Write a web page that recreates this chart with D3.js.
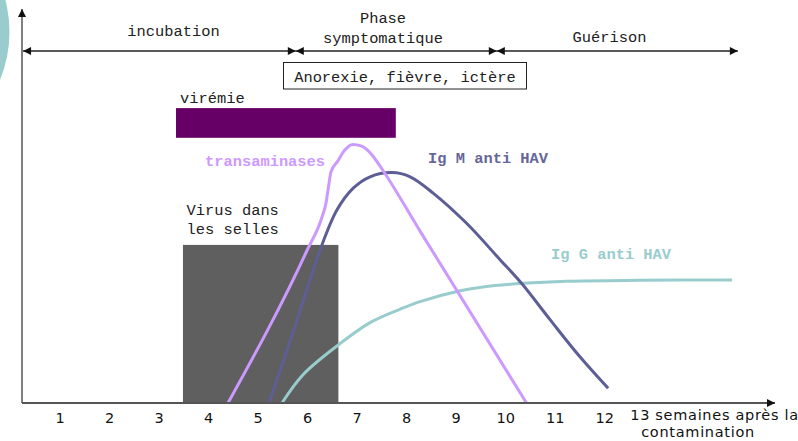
<!DOCTYPE html>
<meta charset="utf-8">
<style type="text/css">
body {
  margin: 0;
  background: #fff;
}
svg { display: block; }

.mono {
  font-family: "Liberation Mono", "Courier New", monospace;
  font-size: 15.4px;
  fill: #222;
}
.mono.bold { font-weight: bold; }

.tick text {
  font-family: "DejaVu Sans", Verdana, sans-serif;
  font-size: 14.5px;
  fill: #111;
}
.tick text.unit { font-size: 14.5px; letter-spacing: 0.7px; }
.curve {
  fill: none;
  stroke-width: 3px;
}
</style>
<body>
</body>

<script src="https://cdn.jsdelivr.net/npm/d3@7"></script>
<script>
// weeks after contamination
var weekTicks = [1, 2, 3, 4, 5, 6, 7, 8, 9, 10, 11, 12, 13];

// clinical phases (limits in weeks)
var phaseNames = ["incubation", "Phase symptomatique", "Guérison"];
var phaseBounds = [0.26, 5.77, 9.83, 14.7];

// bars: [start week, end week, low level, high level]
var viremia = [3.35, 7.79, 88.4, 98.3];
var stoolVirus = [3.49, 6.63, 0, 52.7];

// transaminases
var transWeeks = [4.40, 6.00, 6.30, 6.38, 6.43, 6.48, 6.62, 6.76, 6.92, 7.09, 7.31, 7.47, 8.28, 10.43];
var transLevel = [0, 51.0, 62.0, 66.7, 72.0, 77.0, 80.7, 84.3, 86.2, 85.7, 82.7, 79.0, 57.3, 0];

// Ig M anti HAV
var igmWeeks = [5.23, 5.75, 6.26, 6.60, 6.93, 7.27, 7.71, 8.08, 8.55, 9.22, 9.90, 10.33, 10.91, 11.51, 12.08];
var igmLevel = [0, 25.3, 51.0, 64.3, 71.6, 75.4, 76.8, 75.4, 69.9, 59.9, 47.7, 39.9, 27.7, 15.4, 4.9];

// Ig G anti HAV
var iggWeeks = [5.49, 5.92, 6.60, 7.27, 7.88, 8.28, 9.09, 9.55, 10.36, 11.25, 12.72, 14.58];
var iggLevel = [0, 9.5, 19.0, 26.8, 31.3, 33.8, 37.4, 38.7, 39.9, 40.6, 40.9, 41.0];

var width = 798, height = 441;
var originX = 22, originY = 403, xEnd = 775, yEnd = 9;

var svg = d3.select("body")
  .append("svg")
    .attr("width", width)
    .attr("height", height);

var x = d3.scaleLinear()
  .domain([0, 15])
  .range([10.2, 752.7]);

var y = d3.scaleLinear()
  .domain([0, 100])
  .range([originY, originY - 300]);

var defs = svg.append("defs");
defs.append("marker")
    .attr("id", "arrow")
    .attr("viewBox", "0 0 10 10")
    .attr("refX", 10)
    .attr("refY", 5)
    .attr("markerWidth", 9)
    .attr("markerHeight", 8)
    .attr("markerUnits", "userSpaceOnUse")
    .attr("orient", "auto-start-reverse")
  .append("path")
    .attr("d", "M0,0L10,5L0,10Z")
    .attr("fill", "#111");

// decorative disc on the left edge
svg.append("circle")
  .attr("cx", -116.5)
  .attr("cy", 32)
  .attr("r", 126)
  .attr("fill", "#99cccc");

// bars
svg.append("rect")
  .attr("x", x(stoolVirus[0]))
  .attr("width", x(stoolVirus[1]) - x(stoolVirus[0]))
  .attr("y", y(stoolVirus[3]))
  .attr("height", y(stoolVirus[2]) - y(stoolVirus[3]))
  .attr("fill", "#5f5f5f");

svg.append("rect")
  .attr("x", x(viremia[0]))
  .attr("width", x(viremia[1]) - x(viremia[0]))
  .attr("y", y(viremia[3]))
  .attr("height", y(viremia[2]) - y(viremia[3]))
  .attr("fill", "#660066");

// curves
function pairs(a, b) {
  return a.map(function(d, i) { return [d, b[i]]; });
}

function line(curve) {
  return d3.line()
    .x(function(d) { return x(d[0]); })
    .y(function(d) { return y(d[1]); })
    .curve(curve);
}

svg.append("path")
  .attr("class", "curve")
  .attr("d", line(d3.curveCatmullRom.alpha(0.5))(pairs(iggWeeks, iggLevel)))
  .attr("stroke", "#99cccc");

svg.append("path")
  .attr("class", "curve")
  .attr("d", line(d3.curveCatmullRom.alpha(0.5))(pairs(igmWeeks, igmLevel)))
  .attr("stroke", "#5e5e96");

svg.append("path")
  .attr("class", "curve")
  .attr("d", line(d3.curveMonotoneX)(pairs(transWeeks, transLevel)))
  .attr("stroke", "#cc99ff");

// axes
var xAxis = d3.axisBottom(x)
  .tickValues(weekTicks)
  .tickSize(0)
  .tickPadding(10)
  .tickFormat(function(d) { return d === 13 ? "13 semaines après la" : d; });

var xg = svg.append("g")
  .attr("transform", "translate(0," + originY + ")")
  .call(xAxis);
xg.select(".domain").remove();

var last = xg.selectAll(".tick").filter(function(d) { return d === 13; });
last.select("text")
  .attr("class", "unit")
  .attr("text-anchor", "start")
  .attr("x", -24)
  .attr("y", 7);
last.append("text")
  .attr("class", "unit")
  .attr("text-anchor", "start")
  .attr("x", -13)
  .attr("y", 34)
  .text("contamination");

svg.append("line")
  .attr("x1", originX).attr("y1", originY)
  .attr("x2", xEnd).attr("y2", originY)
  .attr("stroke", "#555")
  .attr("stroke-width", 2)
  .attr("marker-end", "url(#arrow)");

svg.append("line")
  .attr("x1", originX).attr("y1", originY)
  .attr("x2", originX).attr("y2", yEnd)
  .attr("stroke", "#555")
  .attr("stroke-width", 1.5)
  .attr("marker-end", "url(#arrow)");

// phase arrows
var phaseY = 51;
phaseNames.forEach(function(name, i) {
  svg.append("line")
    .attr("x1", x(phaseBounds[i])).attr("y1", phaseY)
    .attr("x2", x(phaseBounds[i + 1])).attr("y2", phaseY)
    .attr("stroke", "#222")
    .attr("stroke-width", 1.5)
    .attr("marker-start", "url(#arrow)")
    .attr("marker-end", "url(#arrow)");
});

function label(txt, px, py, anchor, cls, color) {
  return svg.append("text")
    .attr("class", "mono " + (cls || ""))
    .attr("x", px)
    .attr("y", py)
    .attr("text-anchor", anchor || "start")
    .style("fill", color || null)
    .text(txt);
}

label("incubation", 173.5, 36, "middle");
label("Phase", 383, 23, "middle");
label("symptomatique", 383, 43, "middle");
label("Guérison", 609.5, 42, "middle");

svg.append("rect")
  .attr("x", 283.5).attr("y", 62.5)
  .attr("width", 243).attr("height", 26.5)
  .attr("fill", "#fff")
  .attr("stroke", "#222")
  .attr("stroke-width", 1);
label("Anorexie, fièvre, ictère", 405, 81.5, "middle");

label("virémie", 180, 103);
label("Virus dans", 186.5, 215);
label("les selles", 186.5, 234);

label("transaminases", 205, 166, "start", "bold", "#cc99ff");
label("Ig M anti HAV", 428, 163, "start", "bold", "#666699");
label("Ig G anti HAV", 551, 259, "start", "bold", "#99cccc");
</script>
